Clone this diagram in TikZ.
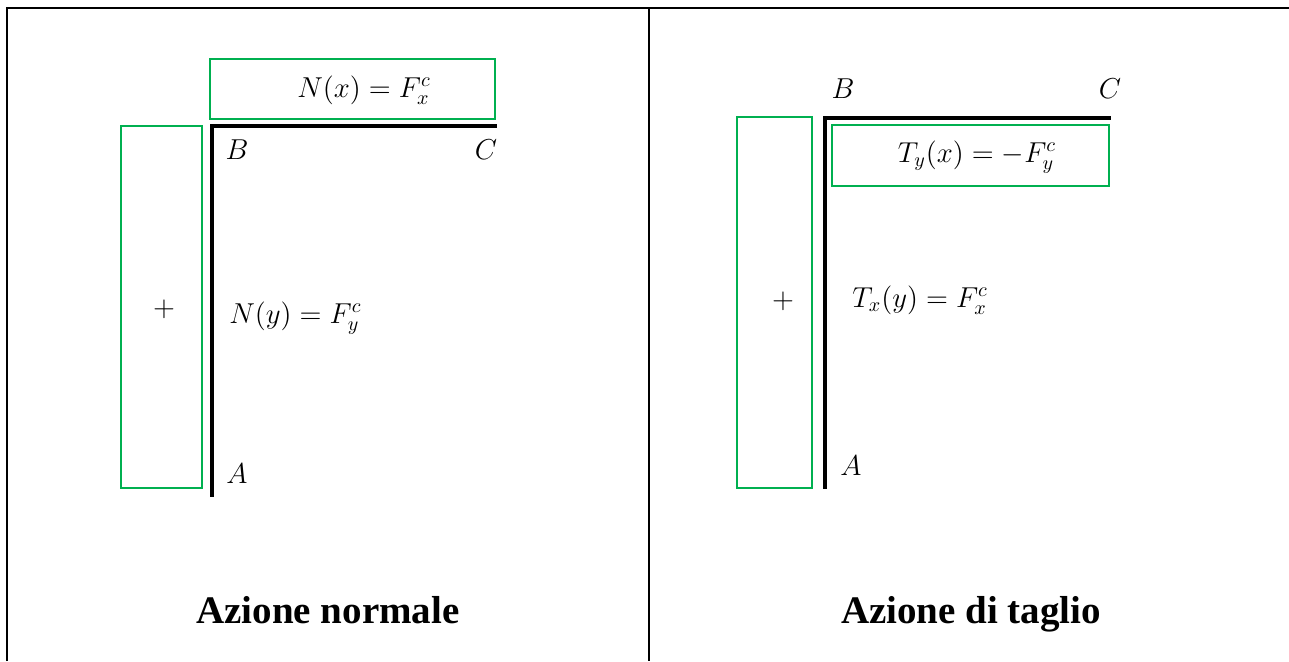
\documentclass[tikz,border=0pt]{standalone}
\usepackage{fontspec}
\setmainfont{Liberation Serif}
\usepackage{amsmath}
\definecolor{offgreen}{RGB}{0,176,80}
\begin{document}
\begin{tikzpicture}[x=0.5pt,y=-0.5pt,
  gbox/.style={draw=offgreen,line width=1pt},
  beam/.style={line width=2.4pt,line cap=rect},
  frame/.style={line width=1pt},
  lbl/.style={inner sep=0pt,font=\fontsize{14}{16}\selectfont},
  title/.style={inner sep=0pt,anchor=base,font=\fontsize{19.5}{23}\selectfont\bfseries}]
\useasboundingbox (0,0) rectangle (1289,661);
% frame
\draw[frame] (7,661) -- (7,8) -- (1289,8);
\draw[frame] (649,8) -- (649,661);
% ---- left panel
\coordinate (lA) at (212,495);
\coordinate (lB) at (212,126);
\coordinate (lC) at (495,126);
\draw[beam] (lA) -- (lB) -- (lC);
\draw[gbox] (210,59) rectangle (495,119);
\draw[gbox] (121,126) rectangle (202,488);
\node[lbl] (nx) at (364,90) {$N(x) = F_x^c$};
\node[lbl,anchor=west] (ny) at (229,318) {$N(y) = F_y^c$};
\node[lbl] (lplus) at (164,309) {$+$};
\node[lbl] (lBl) at (237,150) {$B$};
\node[lbl] (lCl) at (486,150) {$C$};
\node[lbl] (lAl) at (237,474) {$A$};
\node[title] (t1) at (328,623) {Azione normale};
% ---- right panel
\coordinate (rA) at (825,487);
\coordinate (rB) at (825,118);
\coordinate (rC) at (1109,118);
\draw[beam] (rA) -- (rB) -- (rC);
\draw[gbox] (832,125) rectangle (1109,186);
\draw[gbox] (737,117) rectangle (812,488);
\node[lbl] (tyx) at (977,157) {$T_y(x) = -F_y^c$};
\node[lbl,anchor=west] (txy) at (852,300) {$T_x(y) = F_x^c$};
\node[lbl] (rplus) at (783,301) {$+$};
\node[lbl] (rBl) at (843,89) {$B$};
\node[lbl] (rCl) at (1110,89) {$C$};
\node[lbl] (rAl) at (851,466) {$A$};
\node[title] (t2) at (971,623) {Azione di taglio};
\end{tikzpicture}
\end{document}
